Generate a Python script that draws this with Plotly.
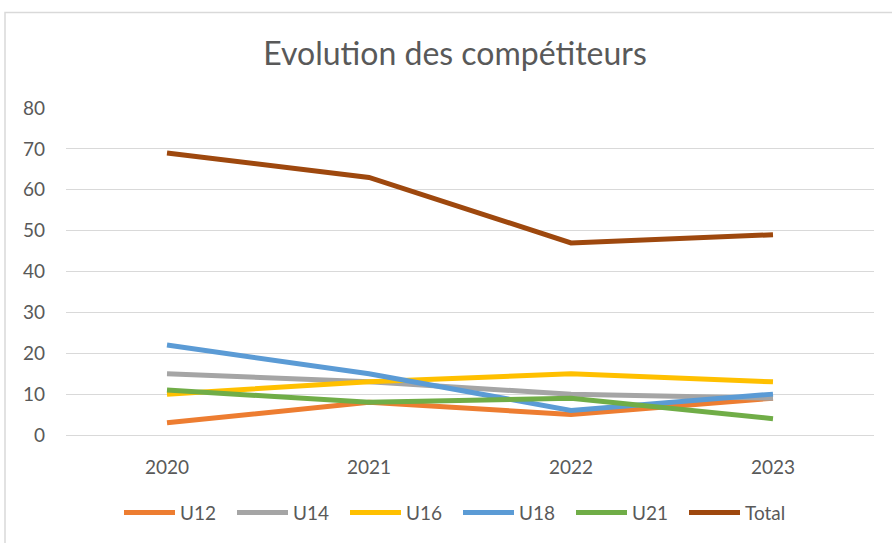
import plotly.graph_objects as go

years = ["2020", "2021", "2022", "2023"]
u12 = [3, 8, 5, 9]
u14 = [15, 13, 10, 9]
u16 = [10, 13, 15, 13]
u18 = [22, 15, 6, 10]
u21 = [11, 8, 9, 4]
total = [69, 63, 47, 49]

series = [
    ("U12", u12, "#ED7D31"),
    ("U14", u14, "#A5A5A5"),
    ("U16", u16, "#FFC000"),
    ("U18", u18, "#5B9BD5"),
    ("U21", u21, "#70AD47"),
    ("Total", total, "#9E480E"),
]

font_family = "Lato, 'Open Sans', sans-serif"

fig = go.Figure()
for name, vals, col in series:
    fig.add_trace(go.Scatter(
        x=years, y=vals, name=name, mode="lines",
        line=dict(color=col, width=5),
    ))

W, H = 892, 543
L, R, T, B = 66, 18, 108, 106
pw, ph = W - L - R, H - T - B

fig.update_layout(
    width=W, height=H,
    margin=dict(l=L, r=R, t=T, b=B),
    paper_bgcolor="white", plot_bgcolor="white",
    font=dict(family=font_family, color="#595959", size=19),
    title=dict(text="Evolution des compétiteurs", x=455 / W, xanchor="center",
               y=1 - 54 / H, yanchor="middle",
               font=dict(size=32, color="#595959", family=font_family)),
    xaxis=dict(type="category", range=[-0.5, 3.5], showgrid=False,
               showline=True, linecolor="#D9D9D9", linewidth=1,
               ticks="", tickfont=dict(size=19, color="#595959"),
               ticklabelstandoff=15, zeroline=False, fixedrange=True),
    yaxis=dict(range=[0, 80], dtick=10, showgrid=True, gridcolor="#D9D9D9",
               gridwidth=1, zeroline=False, showline=False,
               tickfont=dict(size=19, color="#595959"),
               ticklabelstandoff=20, fixedrange=True),
    legend=dict(orientation="h", x=(458 - L) / pw, xanchor="center",
                y=(437 - 515) / ph, yanchor="middle",
                font=dict(size=19, color="#595959"),
                itemwidth=51, entrywidth=47, entrywidthmode="pixels",
                tracegroupgap=0),
    showlegend=True,
)

fig.add_shape(type="rect", xref="paper", yref="paper",
              x0=(5 - L) / pw, x1=(W + 5 - L) / pw,
              y0=(437 - (H + 5)) / ph, y1=(437 - 12) / ph,
              line=dict(color="#D9D9D9", width=1.5), fillcolor="rgba(0,0,0,0)",
              layer="below")

fig.write_html("out.html", config={"displayModeBar": False},
               post_script="document.body.style.margin='0';")
